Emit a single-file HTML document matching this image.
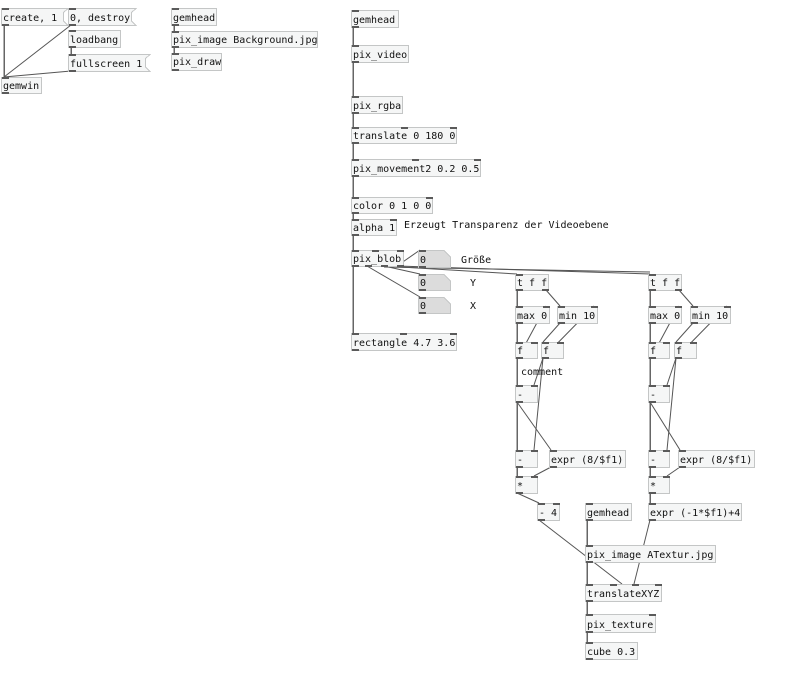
<!DOCTYPE html>
<html><head><meta charset="utf-8"><style>
html,body{margin:0;padding:0;background:#fff;width:785px;height:684px;overflow:hidden}
svg text{font-family:"DejaVu Sans Mono","Liberation Mono",monospace;font-size:10px;fill:#111}
.b{fill:#f5f6f6;stroke:#c4c6c6;stroke-width:1}
.a{fill:#dcdcdc;stroke:#c4c6c6;stroke-width:1}
.p{fill:#5a5a5a}
line{stroke:#555;stroke-width:1}
.t{stroke:#666;stroke-width:1.5}
</style></head><body>
<svg width="785" height="684" xmlns="http://www.w3.org/2000/svg" shape-rendering="crispEdges">
<g>
<line x1="4" y1="25" x2="4" y2="77" class="t"/>
<line x1="71" y1="25" x2="4" y2="77" shape-rendering="auto"/>
<line x1="71" y1="47" x2="71" y2="54" class="t"/>
<line x1="71" y1="71" x2="4" y2="77" shape-rendering="auto"/>
<line x1="174" y1="25" x2="174" y2="31" class="t"/>
<line x1="174" y1="47" x2="174" y2="53" class="t"/>
<line x1="353" y1="27" x2="353" y2="333" class="t"/>
<line x1="397" y1="266" x2="420" y2="250" shape-rendering="auto"/>
<line x1="384" y1="266" x2="420" y2="274" shape-rendering="auto"/>
<line x1="367" y1="266" x2="420" y2="297" shape-rendering="auto"/>
<line x1="384" y1="266" x2="517" y2="274" shape-rendering="auto"/>
<line x1="397" y1="266" x2="650" y2="274" shape-rendering="auto"/>
<line x1="384" y1="267" x2="650" y2="272" shape-rendering="auto"/>
<line x1="517" y1="290" x2="517" y2="476" class="t"/>
<line x1="546" y1="290" x2="560" y2="306" shape-rendering="auto"/>
<line x1="546" y1="306" x2="518" y2="358" shape-rendering="auto"/>
<line x1="594" y1="306" x2="543" y2="358" shape-rendering="auto"/>
<line x1="560" y1="323" x2="543" y2="342" shape-rendering="auto"/>
<line x1="543" y1="358" x2="534" y2="385" shape-rendering="auto"/>
<line x1="543" y1="358" x2="534" y2="450" shape-rendering="auto"/>
<line x1="517" y1="402" x2="551" y2="450" shape-rendering="auto"/>
<line x1="551" y1="467" x2="534" y2="476" shape-rendering="auto"/>
<line x1="517" y1="493" x2="539" y2="503" shape-rendering="auto"/>
<line x1="539" y1="520" x2="622" y2="584" shape-rendering="auto"/>
<line x1="650" y1="290" x2="650" y2="503" class="t"/>
<line x1="679" y1="290" x2="693" y2="306" shape-rendering="auto"/>
<line x1="679" y1="306" x2="651" y2="358" shape-rendering="auto"/>
<line x1="727" y1="306" x2="676" y2="358" shape-rendering="auto"/>
<line x1="693" y1="323" x2="676" y2="342" shape-rendering="auto"/>
<line x1="676" y1="358" x2="667" y2="385" shape-rendering="auto"/>
<line x1="676" y1="358" x2="667" y2="450" shape-rendering="auto"/>
<line x1="650" y1="402" x2="680" y2="450" shape-rendering="auto"/>
<line x1="680" y1="467" x2="667" y2="476" shape-rendering="auto"/>
<line x1="650" y1="520" x2="634" y2="584" shape-rendering="auto"/>
<line x1="587" y1="520" x2="587" y2="659" class="t"/>
</g>

<polygon class="b" points="1.5,8.5 68,8.5 63.5,12.5 63.5,21 68,25.5 1.5,25.5"/>
<text x="3" y="21">create, 1</text>
<polygon class="b" points="68.5,8.5 136,8.5 131.5,12.5 131.5,21 136,25.5 68.5,25.5"/>
<text x="70" y="21">0, destroy</text>
<polygon class="b" points="68.5,54.5 150,54.5 145.5,58.5 145.5,67 150,71.5 68.5,71.5"/>
<text x="70" y="67">fullscreen 1</text>

<g>
<rect class="b" x="68.5" y="30.5" width="52" height="17"/><text x="70" y="43">loadbang</text>
<rect class="b" x="1.5" y="77.5" width="40" height="16"/><text x="3" y="89">gemwin</text>
<rect class="b" x="171.5" y="8.5" width="45" height="17"/><text x="173" y="21">gemhead</text>
<rect class="b" x="171.5" y="31.5" width="146" height="16"/><text x="173" y="43">pix_image Background.jpg</text>
<rect class="b" x="171.5" y="53.5" width="50" height="17"/><text x="173" y="65">pix_draw</text>

<rect class="b" x="351.5" y="10.5" width="47" height="17"/><text x="353" y="23">gemhead</text>
<rect class="b" x="351.5" y="45.5" width="57" height="17"/><text x="353" y="58">pix_video</text>
<rect class="b" x="351.5" y="96.5" width="51" height="17"/><text x="353" y="109">pix_rgba</text>
<rect class="b" x="351.5" y="127.5" width="105" height="16"/><text x="353" y="139">translate 0 180 0</text>
<rect class="b" x="351.5" y="159.5" width="129" height="17"/><text x="353" y="172">pix_movement2 0.2 0.5</text>
<rect class="b" x="351.5" y="197.5" width="81" height="16"/><text x="353" y="209">color 0 1 0 0</text>
<rect class="b" x="351.5" y="219.5" width="45" height="16"/><text x="353" y="231">alpha 1</text>
<text x="404" y="228">Erzeugt Transparenz der Videoebene</text>
<rect class="b" x="351.5" y="250.5" width="52" height="16"/><text x="353" y="262">pix_blob</text>
<rect class="b" x="351.5" y="333.5" width="105" height="17"/><text x="353" y="346">rectangle 4.7 3.6</text>

<path class="a" d="M418.5,250.5 H444 L450.5,257 V267.5 H418.5 Z"/><text x="420" y="263">0</text>
<path class="a" d="M418.5,274.5 H444 L450.5,281 V290.5 H418.5 Z"/><text x="420" y="286">0</text>
<path class="a" d="M418.5,297.5 H444 L450.5,304 V313.5 H418.5 Z"/><text x="420" y="309">0</text>
<text x="461" y="263">Größe</text>
<text x="470" y="286">Y</text>
<text x="470" y="309">X</text>

<rect class="b" x="515.5" y="274.5" width="33" height="16"/><text x="517" y="286">t f f</text>
<rect class="b" x="515.5" y="306.5" width="34" height="17"/><text x="517" y="319">max 0</text>
<rect class="b" x="557.5" y="306.5" width="40" height="17"/><text x="559" y="319">min 10</text>
<rect class="b" x="515.5" y="342.5" width="22" height="16"/><text x="517" y="354">f</text>
<rect class="b" x="541.5" y="342.5" width="22" height="16"/><text x="543" y="354">f</text>
<text x="521" y="375">comment</text>
<rect class="b" x="515.5" y="385.5" width="22" height="17"/><text x="517" y="398">-</text>
<rect class="b" x="515.5" y="450.5" width="22" height="17"/><text x="517" y="463">-</text>
<rect class="b" x="549.5" y="450.5" width="76" height="17"/><text x="551" y="463">expr (8/$f1)</text>
<rect class="b" x="515.5" y="476.5" width="22" height="17"/><text x="517" y="489">*</text>
<rect class="b" x="537.5" y="503.5" width="22" height="17"/><text x="539" y="516">- 4</text>

<rect class="b" x="648.5" y="274.5" width="33" height="16"/><text x="650" y="286">t f f</text>
<rect class="b" x="648.5" y="306.5" width="33" height="17"/><text x="650" y="319">max 0</text>
<rect class="b" x="690.5" y="306.5" width="40" height="17"/><text x="692" y="319">min 10</text>
<rect class="b" x="648.5" y="342.5" width="21" height="16"/><text x="650" y="354">f</text>
<rect class="b" x="674.5" y="342.5" width="22" height="16"/><text x="676" y="354">f</text>
<rect class="b" x="648.5" y="385.5" width="21" height="17"/><text x="650" y="398">-</text>
<rect class="b" x="648.5" y="450.5" width="21" height="17"/><text x="650" y="463">-</text>
<rect class="b" x="678.5" y="450.5" width="76" height="17"/><text x="680" y="463">expr (8/$f1)</text>
<rect class="b" x="648.5" y="476.5" width="21" height="17"/><text x="650" y="489">*</text>
<rect class="b" x="648.5" y="503.5" width="93" height="17"/><text x="650" y="516">expr (-1*$f1)+4</text>

<rect class="b" x="585.5" y="503.5" width="46" height="17"/><text x="587" y="516">gemhead</text>
<rect class="b" x="585.5" y="545.5" width="130" height="17"/><text x="587" y="558">pix_image ATextur.jpg</text>
<rect class="b" x="585.5" y="584.5" width="76" height="17"/><text x="587" y="597">translateXYZ</text>
<rect class="b" x="585.5" y="614.5" width="70" height="18"/><text x="587" y="628">pix_texture</text>
<rect class="b" x="585.5" y="642.5" width="52" height="17"/><text x="587" y="655">cube 0.3</text>
</g>

<g class="p">
<rect x="2" y="8" width="7" height="2"/><rect x="2" y="24" width="7" height="2"/>
<rect x="69" y="8" width="7" height="2"/><rect x="69" y="24" width="7" height="2"/>
<rect x="69" y="30" width="7" height="2"/><rect x="69" y="46" width="7" height="2"/>
<rect x="69" y="54" width="7" height="2"/><rect x="69" y="70" width="7" height="2"/>
<rect x="2" y="77" width="7" height="2"/><rect x="2" y="92" width="7" height="2"/>
<rect x="172" y="8" width="7" height="2"/><rect x="172" y="24" width="7" height="2"/>
<rect x="172" y="31" width="7" height="2"/><rect x="172" y="46" width="7" height="2"/>
<rect x="172" y="53" width="7" height="2"/><rect x="172" y="69" width="7" height="2"/>
<rect x="352" y="10" width="7" height="2"/><rect x="352" y="26" width="7" height="2"/>
<rect x="352" y="45" width="7" height="2"/><rect x="352" y="61" width="7" height="2"/>
<rect x="352" y="96" width="7" height="2"/><rect x="352" y="112" width="7" height="2"/>
<rect x="352" y="127" width="7" height="2"/><rect x="352" y="142" width="7" height="2"/><rect x="401" y="127" width="7" height="2"/><rect x="450" y="127" width="7" height="2"/>
<rect x="352" y="159" width="7" height="2"/><rect x="352" y="175" width="7" height="2"/><rect x="412" y="159" width="7" height="2"/><rect x="474" y="159" width="7" height="2"/>
<rect x="352" y="197" width="7" height="2"/><rect x="352" y="212" width="7" height="2"/><rect x="426" y="197" width="7" height="2"/>
<rect x="352" y="219" width="7" height="2"/><rect x="352" y="234" width="7" height="2"/><rect x="390" y="219" width="7" height="2"/>
<rect x="352" y="250" width="7" height="2"/><rect x="372" y="250" width="7" height="2"/><rect x="397" y="250" width="7" height="2"/>
<rect x="352" y="265" width="7" height="2"/><rect x="365" y="265" width="7" height="2"/><rect x="381" y="265" width="7" height="2"/><rect x="397" y="265" width="7" height="2"/>
<rect x="352" y="333" width="7" height="2"/><rect x="352" y="349" width="7" height="2"/><rect x="400" y="333" width="7" height="2"/><rect x="450" y="333" width="7" height="2"/>
<rect x="419" y="250" width="7" height="2"/><rect x="419" y="266" width="7" height="2"/>
<rect x="419" y="274" width="7" height="2"/><rect x="419" y="289" width="7" height="2"/>
<rect x="419" y="297" width="7" height="2"/><rect x="419" y="312" width="7" height="2"/>
<rect x="516" y="274" width="7" height="2"/><rect x="516" y="289" width="7" height="2"/><rect x="542" y="289" width="7" height="2"/>
<rect x="516" y="306" width="7" height="2"/><rect x="516" y="322" width="7" height="2"/><rect x="543" y="306" width="7" height="2"/>
<rect x="558" y="306" width="7" height="2"/><rect x="558" y="322" width="7" height="2"/><rect x="591" y="306" width="7" height="2"/>
<rect x="516" y="342" width="7" height="2"/><rect x="516" y="357" width="7" height="2"/><rect x="531" y="342" width="7" height="2"/>
<rect x="542" y="342" width="7" height="2"/><rect x="542" y="357" width="7" height="2"/><rect x="557" y="342" width="7" height="2"/>
<rect x="516" y="385" width="7" height="2"/><rect x="516" y="401" width="7" height="2"/><rect x="531" y="385" width="7" height="2"/>
<rect x="516" y="450" width="7" height="2"/><rect x="516" y="466" width="7" height="2"/><rect x="531" y="450" width="7" height="2"/>
<rect x="550" y="450" width="7" height="2"/><rect x="550" y="466" width="7" height="2"/>
<rect x="516" y="476" width="7" height="2"/><rect x="516" y="492" width="7" height="2"/><rect x="531" y="476" width="7" height="2"/>
<rect x="538" y="503" width="7" height="2"/><rect x="538" y="519" width="7" height="2"/><rect x="553" y="503" width="7" height="2"/>
<rect x="649" y="274" width="7" height="2"/><rect x="649" y="289" width="7" height="2"/><rect x="675" y="289" width="7" height="2"/>
<rect x="649" y="306" width="7" height="2"/><rect x="649" y="322" width="7" height="2"/><rect x="675" y="306" width="7" height="2"/>
<rect x="691" y="306" width="7" height="2"/><rect x="691" y="322" width="7" height="2"/><rect x="724" y="306" width="7" height="2"/>
<rect x="649" y="342" width="7" height="2"/><rect x="649" y="357" width="7" height="2"/><rect x="663" y="342" width="7" height="2"/>
<rect x="675" y="342" width="7" height="2"/><rect x="675" y="357" width="7" height="2"/><rect x="690" y="342" width="7" height="2"/>
<rect x="649" y="385" width="7" height="2"/><rect x="649" y="401" width="7" height="2"/><rect x="663" y="385" width="7" height="2"/>
<rect x="649" y="450" width="7" height="2"/><rect x="649" y="466" width="7" height="2"/><rect x="663" y="450" width="7" height="2"/>
<rect x="679" y="450" width="7" height="2"/><rect x="679" y="466" width="7" height="2"/>
<rect x="649" y="476" width="7" height="2"/><rect x="649" y="492" width="7" height="2"/><rect x="663" y="476" width="7" height="2"/>
<rect x="649" y="503" width="7" height="2"/><rect x="649" y="519" width="7" height="2"/>
<rect x="586" y="503" width="7" height="2"/><rect x="586" y="519" width="7" height="2"/>
<rect x="586" y="545" width="7" height="2"/><rect x="586" y="561" width="7" height="2"/>
<rect x="586" y="584" width="7" height="2"/><rect x="586" y="600" width="7" height="2"/><rect x="610" y="584" width="7" height="2"/><rect x="632" y="584" width="7" height="2"/><rect x="655" y="584" width="7" height="2"/>
<rect x="586" y="614" width="7" height="2"/><rect x="586" y="631" width="7" height="2"/><rect x="649" y="614" width="7" height="2"/>
<rect x="586" y="642" width="7" height="2"/><rect x="586" y="658" width="7" height="2"/>
</g>
</svg>
</body></html>
